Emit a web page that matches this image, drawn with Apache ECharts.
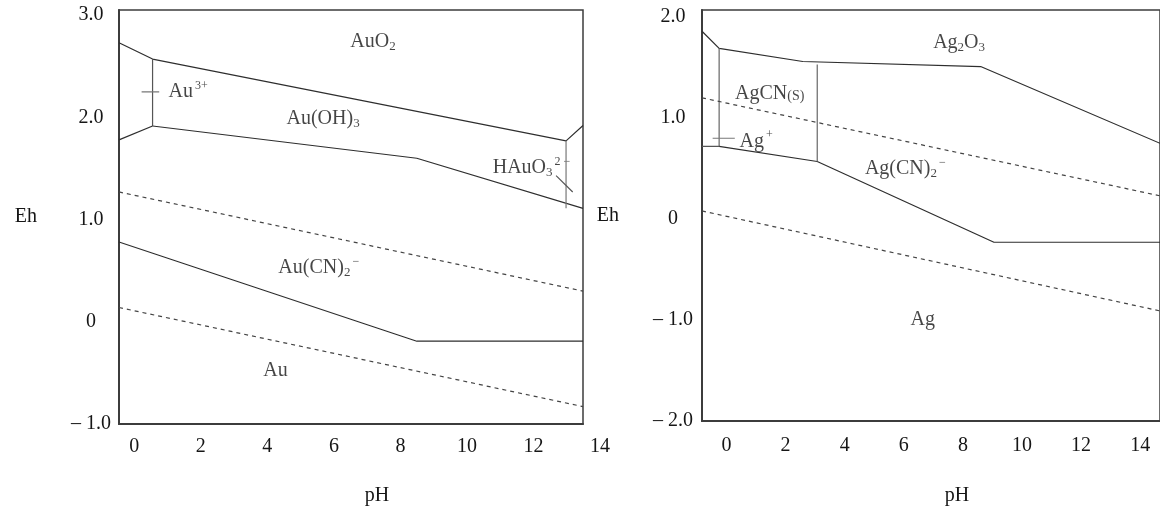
<!DOCTYPE html>
<html>
<head>
<meta charset="utf-8">
<script src="https://cdn.jsdelivr.net/npm/echarts@6/dist/echarts.min.js"></script>
<style>
  html, body { margin: 0; padding: 0; background: #fff; }
  #main { width: 1160px; height: 511px; }
</style>
</head>
<body>
<div id="main"></div>
<script>
// tick values
var phTicks = [0, 2, 4, 6, 8, 10, 12, 14];
var auEhTicks = [-1, 0, 1, 2, 3];
var agEhTicks = [-2, -1, 0, 1, 2];

// Au - CN - H2O  (pH, Eh)
var auO2Boundary = [[-0.46, 2.73], [0.55, 2.57], [12.99, 1.77], [13.5, 1.92]];
var au3Lower = [[-0.46, 1.78], [0.55, 1.915]];
var au3Vertical = [[0.55, 2.57], [0.55, 1.915]];
var auOH3Lower = [[0.55, 1.915], [8.5, 1.6], [13.5, 1.11]];
var hauo3Vertical = [[12.99, 1.77], [12.99, 1.11]];
var hauo3Tick = [[12.69, 1.43], [13.19, 1.27]];
var au3Tick = [[0.22, 2.25], [0.75, 2.25]];
var auO2Water = [[-0.46, 1.27], [13.5, 0.3]];
var auCNLine = [[-0.46, 0.78], [8.5, -0.19], [13.5, -0.19]];
var auH2Water = [[-0.46, 0.14], [13.5, -0.83]];

// Ag - CN - H2O  (pH, Eh)
var ag2O3Boundary = [[-0.83, 1.86], [-0.25, 1.69], [2.58, 1.56], [8.6, 1.51], [14.67, 0.75]];
var agPlusBoundary = [[-0.83, 0.72], [-0.25, 0.72]];
var agCNVertical1 = [[-0.25, 1.69], [-0.25, 0.72]];
var agCNLower = [[-0.25, 0.72], [3.07, 0.57], [9.05, -0.23], [14.67, -0.23]];
var agCNVertical2 = [[3.07, 1.53], [3.07, 0.57]];
var agPlusTick = [[-0.47, 0.8], [0.28, 0.8]];
var agO2Water = [[-0.83, 1.2], [14.67, 0.23]];
var agH2Water = [[-0.83, 0.08], [14.67, -0.91]];

// region labels: text, pH, Eh
var auLabels = [
  ['{m|AuO}{sub|2}', 7.18, 2.74],
  ['{m|Au(OH)}{sub|3}', 5.68, 1.99],
  ['{m|Au}{sup|3+}', 1.62, 2.25],
  ['{m|HAuO}{sub|3}{sup|2 \u2212}', 11.95, 1.51],
  ['{m|Au(CN)}{sub|2}{sup|\u2212}', 5.55, 0.53],
  ['{m|Au}', 4.25, -0.48]
];
var agLabels = [
  ['{m|Ag}{sub|2}{m|O}{sub|3}', 7.87, 1.75],
  ['{m|AgCN}{s|(S)}', 1.46, 1.24],
  ['{m|Ag}{sup|+}', 1.0, 0.77],
  ['{m|Ag(CN)}{sub|2}{sup|\u2212}', 6.05, 0.5],
  ['{m|Ag}', 6.64, -1.0]
];

var FONT = 'Liberation Serif';
var INK = '#161616';

function ehFmt(v) {
  if (v === 0) return '0';
  return (v < 0 ? '\u2013 ' : '') + Math.abs(v).toFixed(1);
}

var rich = {
  m: { fontFamily: FONT, fontSize: 20, color: INK },
  sub: { fontFamily: FONT, fontSize: 13, color: INK, padding: [10, 0, 0, 0] },
  sup: { fontFamily: FONT, fontSize: 12, color: INK, padding: [0, 0, 12, 2] },
  s: { fontFamily: FONT, fontSize: 14, color: INK, padding: [5, 0, 0, 0] }
};

function line(data, xi, yi, opts) {
  opts = opts || {};
  return {
    type: 'line', xAxisIndex: xi, yAxisIndex: yi, data: data,
    showSymbol: false, silent: true, animation: false,
    lineStyle: { color: opts.color || '#2e2e2e', width: opts.width || 1.2, type: opts.dashed ? [4, 4] : 'solid' }
  };
}

function labels(items, xi, yi) {
  return {
    type: 'scatter', xAxisIndex: xi, yAxisIndex: yi, symbolSize: 0, silent: true, animation: false,
    data: items.map(function (d) { return { name: d[0], value: [d[1], d[2]] }; }),
    label: { show: true, position: 'inside', formatter: function (p) { return p.name; }, rich: rich }
  };
}

var tickLabel = { fontFamily: FONT, fontSize: 20, color: INK };
var frameLine = { show: true, onZero: false, lineStyle: { color: '#3c3c3c', width: 2 } };

var option = {
  backgroundColor: '#fff',
  grid: [
    { left: 119, top: 10, width: 464, height: 414, show: true, borderColor: '#3c3c3c', borderWidth: 1.5 },
    { left: 119, top: 10, width: 501, height: 414, show: false },
    { left: 702, top: 10, width: 460, height: 415, show: true, borderColor: '#3c3c3c', borderWidth: 1.5 }
  ],
  xAxis: [
    { gridIndex: 0, type: 'value', min: -0.46, max: 13.5, axisLine: frameLine, axisTick: { show: false },
      axisLabel: { show: false }, splitLine: { show: false } },
    { gridIndex: 1, type: 'value', min: -0.46, max: 14.6, axisLine: { show: false, onZero: false }, axisTick: { show: false },
      splitLine: { show: false },
      axisLabel: Object.assign({ customValues: phTicks, margin: 13 }, tickLabel),
      name: 'pH', nameLocation: 'middle', nameGap: 62,
      nameTextStyle: { fontFamily: FONT, fontSize: 20, color: INK, padding: [0, 0, 0, 15] } },
    { gridIndex: 2, type: 'value', min: -0.83, max: 14.67, axisLine: frameLine, axisTick: { show: false },
      splitLine: { show: false },
      axisLabel: Object.assign({ customValues: phTicks, margin: 15 }, tickLabel),
      name: 'pH', nameLocation: 'middle', nameGap: 65,
      nameTextStyle: { fontFamily: FONT, fontSize: 20, color: INK, padding: [0, 0, 0, 52] } }
  ],
  yAxis: [
    { gridIndex: 0, type: 'value', min: -1, max: 3.05, axisLine: frameLine, axisTick: { show: false },
      splitLine: { show: false },
      axisLabel: Object.assign({ customValues: auEhTicks, formatter: ehFmt, align: 'center', margin: 28 }, tickLabel),
      name: 'Eh', nameLocation: 'middle', nameRotate: 0, nameGap: 82,
      nameTextStyle: { fontFamily: FONT, fontSize: 20, color: INK } },
    { gridIndex: 1, type: 'value', min: -1, max: 3.05, show: false },
    { gridIndex: 2, type: 'value', min: -2, max: 2.07, axisLine: frameLine, axisTick: { show: false },
      splitLine: { show: false },
      axisLabel: Object.assign({ customValues: agEhTicks, formatter: ehFmt, align: 'center', margin: 29 }, tickLabel),
      name: 'Eh', nameLocation: 'middle', nameRotate: 0, nameGap: 83,
      nameTextStyle: { fontFamily: FONT, fontSize: 20, color: INK } }
  ],
  series: [
    line(auO2Boundary, 0, 0),
    line(au3Lower, 0, 0),
    line(au3Vertical, 0, 0, { color: '#555' }),
    line(auOH3Lower, 0, 0),
    line(hauo3Vertical, 0, 0, { color: '#777' }),
    line(hauo3Tick, 0, 0, { color: '#555' }),
    line(au3Tick, 0, 0, { color: '#777' }),
    line(auO2Water, 0, 0, { dashed: true, color: '#444' }),
    line(auCNLine, 0, 0),
    line(auH2Water, 0, 0, { dashed: true, color: '#444' }),
    labels(auLabels, 0, 0),

    line(ag2O3Boundary, 2, 2),
    line(agPlusBoundary, 2, 2, { color: '#555' }),
    line(agCNVertical1, 2, 2, { color: '#666' }),
    line(agCNLower, 2, 2),
    line(agCNVertical2, 2, 2, { color: '#666' }),
    line(agPlusTick, 2, 2, { color: '#777' }),
    line(agO2Water, 2, 2, { dashed: true, color: '#444' }),
    line(agH2Water, 2, 2, { dashed: true, color: '#444' }),
    labels(agLabels, 2, 2)
  ]
};

echarts.init(document.getElementById('main')).setOption(option);
</script>
</body>
</html>
